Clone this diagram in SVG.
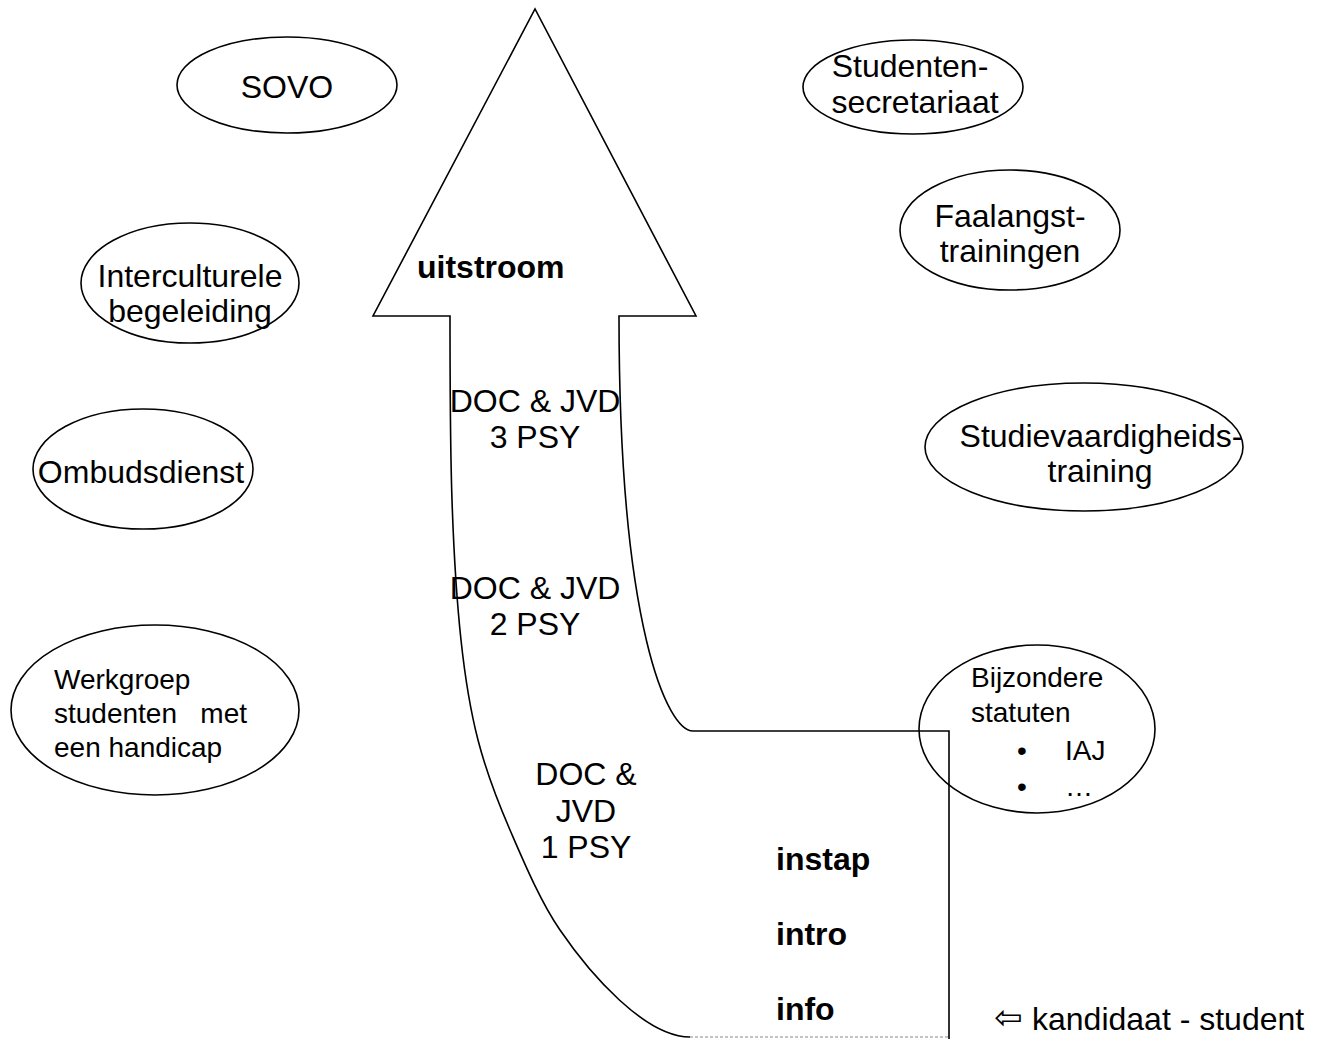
<svg xmlns="http://www.w3.org/2000/svg" width="1325" height="1039" viewBox="0 0 1325 1039">
<style>
.e{fill:none;stroke:#000;stroke-width:1.6}
.t{font-family:"Liberation Sans",Arial,sans-serif;font-size:32px;fill:#000}
.m{text-anchor:middle}
.b{font-weight:bold}
.s{font-size:28px}
.o{fill:none;stroke:#000;stroke-width:1.6;stroke-linejoin:miter}
</style>
<rect width="1325" height="1039" fill="#fff"/>
<g id="connectors">
<g id="flow-arrow">
<path class="o" d="M949,1045 L949,731 L693,731 C668,731 619,630 619,316 L696,316 L535,9 L373,316 L450,316 C450,376 450.2,446 452,500 C453.8,554 456.7,600 461,640 C465.3,680 469.8,708.3 478,740 C486.2,771.7 496.3,798.3 510,830 C523.7,861.7 540.5,901.7 560,930 C590,974 645,1037 690,1037"/>
<line x1="690" y1="1037" x2="949" y2="1037" stroke="#888" stroke-width="1.2" stroke-dasharray="3 2"/>
</g>
</g>
<g id="stage-labels">
<text class="t b" x="417" y="278">uitstroom</text>
<text class="t m" x="535" y="412">DOC &amp; JVD</text>
<text class="t m" x="535" y="448">3 PSY</text>
<text class="t m" x="535" y="599">DOC &amp; JVD</text>
<text class="t m" x="535" y="635">2 PSY</text>
<text class="t m" x="586" y="785">DOC &amp;</text>
<text class="t m" x="586" y="822">JVD</text>
<text class="t m" x="586" y="858">1 PSY</text>
<text class="t b" x="776" y="870">instap</text>
<text class="t b" x="776" y="945">intro</text>
<text class="t b" x="776" y="1020">info</text>
</g>
<g id="sovo">
<ellipse class="e" cx="287" cy="85" rx="110" ry="48"/>
<text class="t m" x="287" y="98">SOVO</text>
</g>
<g id="interculturele">
<ellipse class="e" cx="190" cy="283" rx="109" ry="60"/>
<text class="t m" x="190" y="287">Interculturele</text>
<text class="t m" x="190" y="322">begeleiding</text>
</g>
<g id="ombudsdienst">
<ellipse class="e" cx="143" cy="469" rx="110" ry="60"/>
<text class="t m" x="141" y="483">Ombudsdienst</text>
</g>
<g id="werkgroep">
<ellipse class="e" cx="155" cy="710" rx="144" ry="85"/>
<text class="t s" x="54" y="689">Werkgroep</text>
<text class="t s" x="54" y="723" xml:space="preserve">studenten   met</text>
<text class="t s" x="54" y="757">een handicap</text>
</g>
<g id="studentensecretariaat">
<ellipse class="e" cx="913" cy="87" rx="110" ry="47"/>
<text class="t m" x="910" y="77">Studenten-</text>
<text class="t m" x="915" y="113">secretariaat</text>
</g>
<g id="faalangst">
<ellipse class="e" cx="1010" cy="230" rx="110" ry="60"/>
<text class="t m" x="1010" y="227">Faalangst-</text>
<text class="t m" x="1010" y="262">trainingen</text>
</g>
<g id="studievaardigheid">
<ellipse class="e" cx="1084" cy="447" rx="159" ry="64"/>
<text class="t m" x="1101" y="447">Studievaardigheids-</text>
<text class="t m" x="1100" y="482">training</text>
</g>
<g id="bijzondere-statuten">
<ellipse class="e" cx="1037" cy="729" rx="118" ry="84"/>
<text class="t s" x="971" y="687">Bijzondere</text>
<text class="t s" x="971" y="722">statuten</text>
<text class="t s" x="1017" y="760">•</text>
<text class="t s" x="1065" y="760">IAJ</text>
<text class="t s" x="1017" y="796">•</text>
<text class="t s" x="1065" y="796">…</text>
</g>
<g id="legend">
<text x="994" y="1029" font-family="'DejaVu Sans',sans-serif" font-size="34" fill="#000">⇦</text>
<text class="t" x="1032" y="1030">kandidaat - student</text>
</g>
</svg>
